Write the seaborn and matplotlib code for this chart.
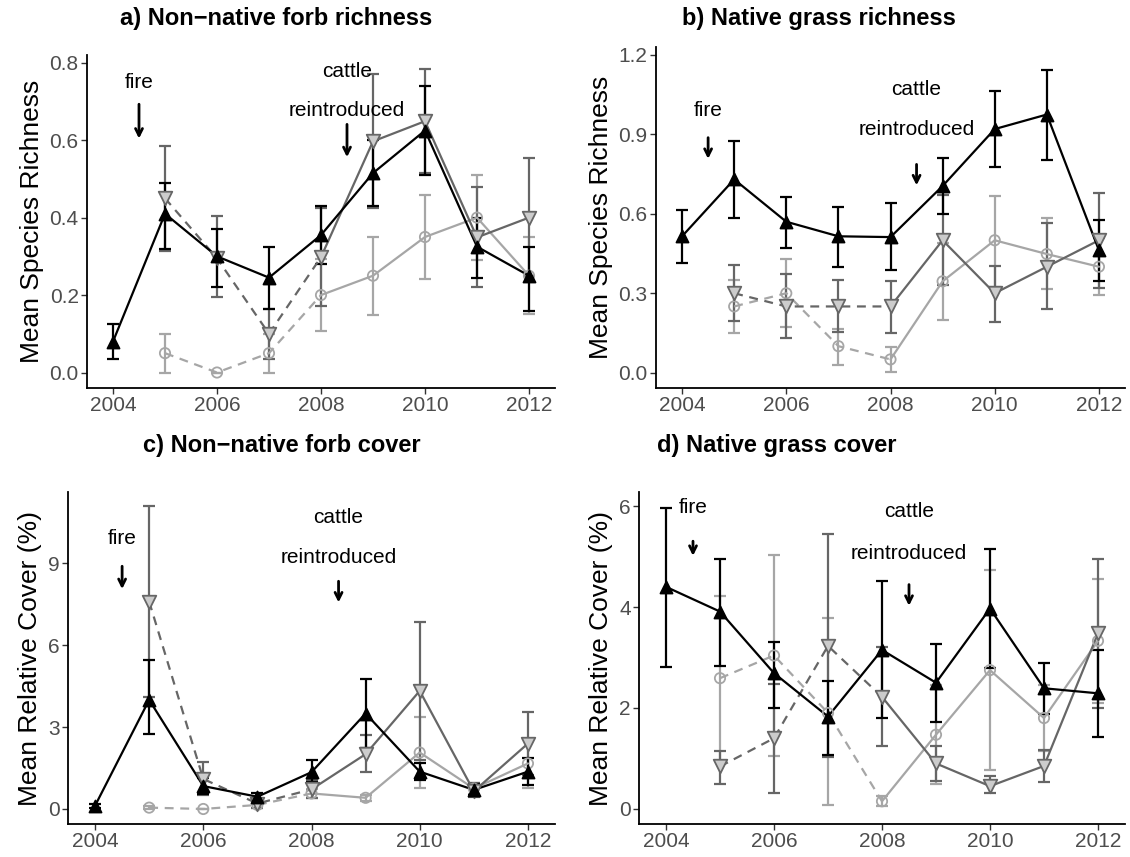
import numpy as np
import pandas as pd
import matplotlib
matplotlib.use("Agg")
import matplotlib.pyplot as plt
import seaborn as sns

nan = np.nan
years = [2004, 2005, 2006, 2007, 2008, 2009, 2010, 2011, 2012]

# s1 = black / up-triangle, s2 = dark grey / down-triangle, s3 = light grey / circle
# a) non-native forb richness
a_s1 = [0.08, 0.41, 0.30, 0.245, 0.355, 0.515, 0.625, 0.325, 0.25]
a_s1_lo = [0.035, 0.32, 0.22, 0.165, 0.28, 0.43, 0.51, 0.245, 0.16]
a_s1_hi = [0.125, 0.49, 0.37, 0.325, 0.43, 0.60, 0.74, 0.40, 0.325]
a_s2 = [nan, 0.45, 0.295, 0.10, 0.298, 0.597, 0.649, 0.349, 0.40]
a_s2_lo = [nan, 0.315, 0.195, 0.035, 0.172, 0.424, 0.515, 0.22, 0.25]
a_s2_hi = [nan, 0.585, 0.405, 0.165, 0.424, 0.77, 0.783, 0.48, 0.554]
a_s3 = [nan, 0.05, 0.0, 0.05, 0.20, 0.25, 0.35, 0.40, 0.25]
a_s3_lo = [nan, 0.0, 0.0, 0.0, 0.108, 0.149, 0.241, 0.29, 0.15]
a_s3_hi = [nan, 0.10, 0.0, 0.10, 0.294, 0.349, 0.459, 0.51, 0.349]

# b) native grass richness
b_s1 = [0.515, 0.73, 0.57, 0.515, 0.512, 0.705, 0.92, 0.975, 0.462]
b_s1_lo = [0.415, 0.585, 0.47, 0.40, 0.388, 0.60, 0.778, 0.804, 0.345]
b_s1_hi = [0.613, 0.875, 0.665, 0.625, 0.64, 0.81, 1.062, 1.144, 0.575]
b_s2 = [nan, 0.30, 0.25, 0.25, 0.25, 0.50, 0.30, 0.40, 0.50]
b_s2_lo = [nan, 0.195, 0.13, 0.152, 0.151, 0.33, 0.193, 0.24, 0.32]
b_s2_hi = [nan, 0.405, 0.372, 0.35, 0.348, 0.671, 0.403, 0.565, 0.68]
b_s3 = [nan, 0.25, 0.30, 0.10, 0.05, 0.345, 0.50, 0.448, 0.40]
b_s3_lo = [nan, 0.15, 0.174, 0.03, 0.004, 0.20, 0.325, 0.315, 0.293]
b_s3_hi = [nan, 0.35, 0.428, 0.165, 0.098, 0.49, 0.669, 0.583, 0.51]

# c) non-native forb cover
c_s1 = [0.12, 4.0, 0.84, 0.45, 1.35, 3.5, 1.37, 0.70, 1.37]
c_s1_lo = [0.05, 2.75, 0.55, 0.30, 1.0, 2.24, 1.06, 0.5, 0.88]
c_s1_hi = [0.2, 5.45, 1.15, 0.60, 1.79, 4.76, 1.68, 0.9, 1.86]
c_s2 = [nan, 7.6, 1.1, 0.2, 0.72, 2.01, 4.33, 0.65, 2.4]
c_s2_lo = [nan, 4.1, 0.5, 0.05, 0.4, 1.37, 1.8, 0.45, 1.24]
c_s2_hi = [nan, 11.1, 1.72, 0.35, 1.05, 2.71, 6.86, 0.95, 3.56]
c_s3 = [nan, 0.05, 0.0, 0.15, 0.57, 0.41, 2.07, 0.75, 1.67]
c_s3_lo = [nan, 0.0, 0.0, 0.05, 0.42, 0.3, 0.76, 0.55, 0.76]
c_s3_hi = [nan, 0.1, 0.0, 0.25, 0.72, 0.52, 3.38, 0.95, 2.58]

# d) native grass cover
d_s1 = [4.4, 3.91, 2.69, 1.83, 3.15, 2.5, 3.97, 2.39, 2.29]
d_s1_lo = [2.81, 2.84, 2.0, 1.07, 1.81, 1.72, 2.8, 1.88, 1.42]
d_s1_hi = [5.97, 4.96, 3.31, 2.54, 4.51, 3.26, 5.15, 2.9, 3.15]
d_s2 = [nan, 0.84, 1.40, 3.23, 2.22, 0.90, 0.45, 0.85, 3.48]
d_s2_lo = [nan, 0.5, 0.31, 1.02, 1.25, 0.55, 0.32, 0.54, 2.0]
d_s2_hi = [nan, 1.15, 2.47, 5.44, 3.2, 1.25, 0.65, 1.17, 4.95]
d_s3 = [nan, 2.59, 3.04, 1.9, 0.15, 1.47, 2.75, 1.8, 3.33]
d_s3_lo = [nan, 0.95, 1.04, 0.08, 0.05, 0.49, 0.77, 1.15, 2.09]
d_s3_hi = [nan, 4.22, 5.03, 3.78, 0.25, 2.45, 4.73, 2.45, 4.55]

titles = ["a) Non\u2212native forb richness", "b) Native grass richness",
          "c) Non\u2212native forb cover", "d) Native grass cover"]
ylabels = ["Mean Species Richness", "Mean Species Richness",
           "Mean Relative Cover (%)", "Mean Relative Cover (%)"]
yticks = [[0, 0.2, 0.4, 0.6, 0.8], [0, 0.3, 0.6, 0.9, 1.2], [0, 3, 6, 9], [0, 2, 4, 6]]
ytick_labels = [["0.0", "0.2", "0.4", "0.6", "0.8"], ["0.0", "0.3", "0.6", "0.9", "1.2"],
                ["0", "3", "6", "9"], ["0", "2", "4", "6"]]
xticks = [2004, 2006, 2008, 2010, 2012]


def make_df(mean, lo, hi):
    df = pd.DataFrame({"year": years, "mean": mean, "lo": lo, "hi": hi})
    return df.dropna()


panels = [
    [make_df(a_s1, a_s1_lo, a_s1_hi), make_df(a_s2, a_s2_lo, a_s2_hi), make_df(a_s3, a_s3_lo, a_s3_hi)],
    [make_df(b_s1, b_s1_lo, b_s1_hi), make_df(b_s2, b_s2_lo, b_s2_hi), make_df(b_s3, b_s3_lo, b_s3_hi)],
    [make_df(c_s1, c_s1_lo, c_s1_hi), make_df(c_s2, c_s2_lo, c_s2_hi), make_df(c_s3, c_s3_lo, c_s3_hi)],
    [make_df(d_s1, d_s1_lo, d_s1_hi), make_df(d_s2, d_s2_lo, d_s2_hi), make_df(d_s3, d_s3_lo, d_s3_hi)],
]

sns.set_style("ticks")
plt.rcParams["font.family"] = ["Liberation Sans", "DejaVu Sans"]
plt.rcParams["text.color"] = "black"
plt.rcParams["axes.labelcolor"] = "black"

W, H = 1130, 857
fig = plt.figure(figsize=(W / 100, H / 100), dpi=100)

# axes boxes in pixels: left, top, right, bottom
boxes = [(87, 55, 555, 388), (656, 47, 1125, 388), (68, 492, 555, 824), (639, 492, 1125, 824)]
ylims = [(-0.04, 0.82), (-0.058, 1.23), (-0.55, 11.62), (-0.3, 6.28)]
title_pos = [(120, 18), (682, 18), (143, 446), (657, 446)]
# fire: text y, arrow start, arrow end ; cattle: text y, reintroduced y, arrow start, arrow end
fire_ann = [(0.748, 0.70, 0.597), (0.99, 0.898, 0.797), (9.92, 9.0, 7.96), (5.97, 5.36, 4.96)]
cattle_ann = [(0.778, 0.677, 0.648, 0.549), (1.07, 0.92, 0.797, 0.697),
              (10.7, 9.22, 8.45, 7.47), (5.89, 5.06, 4.5, 3.97)]

styles = [
    dict(color="black", marker="^", face="black", edge="black", ms=75),
    dict(color="#666666", marker="v", face="#cccccc", edge="#666666", ms=95),
    dict(color="#a6a6a6", marker="o", face="none", edge="#a6a6a6", ms=55),
]

for i, series in enumerate(panels):
    l, t, r, b = boxes[i]
    ax = fig.add_axes([l / W, 1 - b / H, (r - l) / W, (b - t) / H])
    # draw light series first, black on top
    for k in [2, 1, 0]:
        df = series[k]
        st = styles[k]
        ax.errorbar(df["year"], df["mean"], yerr=[df["mean"] - df["lo"], df["hi"] - df["mean"]],
                    fmt="none", ecolor=st["color"], elinewidth=1.6, capsize=4.5, capthick=1.6, zorder=2)
        if k == 0:
            sns.lineplot(data=df, x="year", y="mean", ax=ax, color=st["color"], lw=1.6,
                         errorbar=None, zorder=3)
        else:
            early = df[df["year"] <= 2008]
            late = df[df["year"] >= 2008]
            sns.lineplot(data=early, x="year", y="mean", ax=ax, color=st["color"], lw=1.6,
                         linestyle=(0, (4, 3)), errorbar=None, zorder=3)
            sns.lineplot(data=late, x="year", y="mean", ax=ax, color=st["color"], lw=1.6,
                         errorbar=None, zorder=3)
        sns.scatterplot(data=df, x="year", y="mean", ax=ax, marker=st["marker"], s=st["ms"],
                        color=st["face"], edgecolor=st["edge"], linewidth=1.3, zorder=4)

    ax.set_xlim(2003.5, 2012.5)
    ax.set_ylim(*ylims[i])
    ax.set_xticks(xticks)
    ax.set_xticklabels([str(x) for x in xticks])
    ax.set_yticks(yticks[i])
    ax.set_yticklabels(ytick_labels[i])
    ax.set_xlabel("")
    ax.set_ylabel(ylabels[i], fontsize=19, color="black", labelpad=4)
    ax.tick_params(axis="both", labelsize=15, labelcolor="#4d4d4d", color="#333333",
                   length=4, width=1.0, pad=2)
    sns.despine(ax=ax)
    for sp in ["left", "bottom"]:
        ax.spines[sp].set_color("black")
        ax.spines[sp].set_linewidth(1.3)

    fy, fa0, fa1 = fire_ann[i]
    ax.text(2004.5, fy, "fire", ha="center", va="center", fontsize=15, color="black")
    ax.annotate("", xy=(2004.5, fa1), xytext=(2004.5, fa0),
                arrowprops=dict(arrowstyle="->,head_length=0.5,head_width=0.25", lw=2, color="black"))
    cy, ry, ca0, ca1 = cattle_ann[i]
    ax.text(2008.5, cy, "cattle", ha="center", va="center", fontsize=15, color="black")
    ax.text(2008.5, ry, "reintroduced", ha="center", va="center", fontsize=15, color="black")
    ax.annotate("", xy=(2008.5, ca1), xytext=(2008.5, ca0),
                arrowprops=dict(arrowstyle="->,head_length=0.5,head_width=0.25", lw=2, color="black"))

    tx, ty = title_pos[i]
    fig.text(tx / W, 1 - ty / H, titles[i], ha="left", va="center", fontsize=17,
             fontweight="bold", color="black")

fig.savefig("out.png", dpi=100)
